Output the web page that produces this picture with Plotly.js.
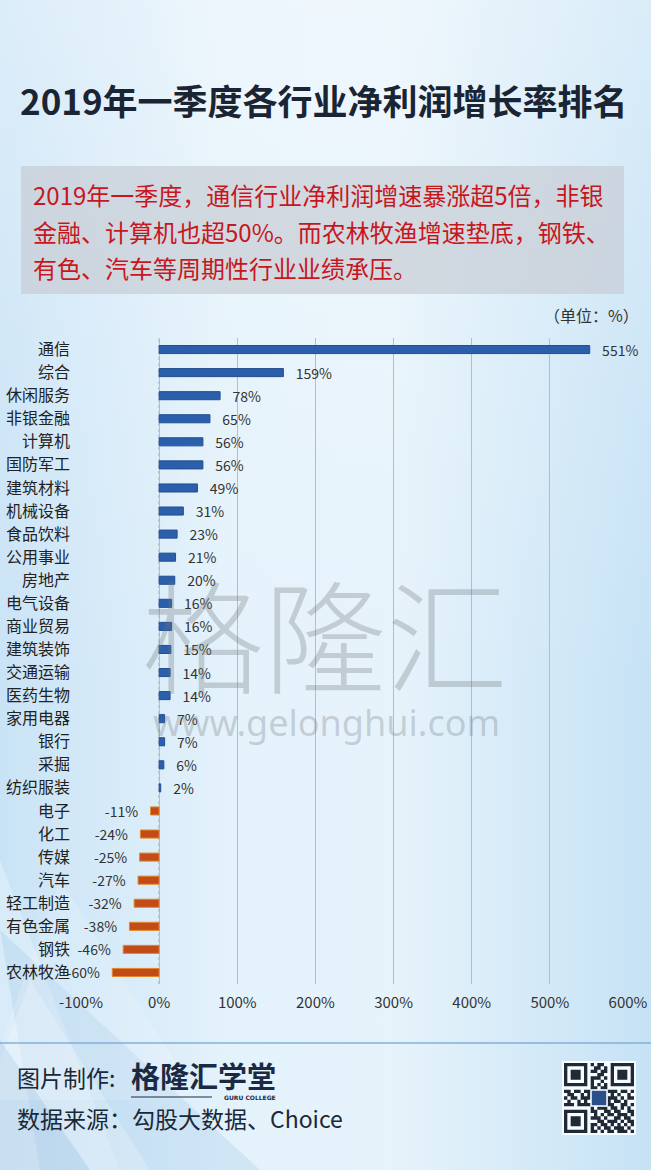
<!DOCTYPE html>
<html>
<head>
<meta charset="utf-8">
<script src="https://cdn.plot.ly/plotly-3.0.1.min.js"></script>
<style>
  html, body { margin: 0; padding: 0; }
  body {
    width: 651px; height: 1170px; overflow: hidden;
    background:
      linear-gradient(180deg, rgba(255,255,255,0.35) 0%, rgba(255,255,255,0.15) 30%, rgba(255,255,255,0) 60%),
      linear-gradient(90deg, #c9e3f6 0%, #e4f2fb 35%, #e6f3fb 60%, #c6e2f5 100%);
  }
  #graficPlotly { width: 651px; height: 1170px; }
</style>
</head>
<body>
<div id="graficPlotly"></div>
<script>
// DADES DEL GRAFIC (de dalt a baix)
var sectors = ['通信','综合','休闲服务','非银金融','计算机','国防军工','建筑材料','机械设备','食品饮料','公用事业',
               '房地产','电气设备','商业贸易','建筑装饰','交通运输','医药生物','家用电器','银行','采掘','纺织服装',
               '电子','化工','传媒','汽车','轻工制造','有色金属','钢铁','农林牧渔'];
var creixement = [551,159,78,65,56,56,49,31,23,21,
                  20,16,16,15,14,14,7,7,6,2,
                  -11,-24,-25,-27,-32,-38,-46,-60];
var ticksX = [-100,0,100,200,300,400,500,600];

var textAnalisi = ['2019年一季度，通信行业净利润增速暴涨超5倍，非银',
                   '金融、计算机也超50%。而农林牧渔增速垫底，钢铁、',
                   '有色、汽车等周期性行业业绩承压。'];

// patro decoratiu del codi QR
var qr = [
  '111111101011001111111',
  '100000100110101000001',
  '101110101101101011101',
  '101110100011001011101',
  '101110101110101011101',
  '100000101001001000001',
  '111111101010101111111',
  '000000001101100000000',
  '110110111010011101101',
  '011001010111101010010',
  '101101110000011101011',
  '010010100000010110100',
  '111011111000011001101',
  '000000001011101101010',
  '111111101100110110011',
  '100000100101011011101',
  '101110101110100110110',
  '101110100011011101011',
  '101110101101101010101',
  '100000101010110111010',
  '111111101101011011101'
];

// MARGES DE L'AREA DEL GRAFIC (en pixels)
var W = 651, H = 1170;
var mL = 81, mR = 23, mT = 338, mB = 186;
var pw = W - mL - mR, ph = H - mT - mB;
function px(x) { return (x - mL) / pw; }        // pixel x -> paper
function py(y) { return (H - mB - y) / ph; }    // pixel y -> paper

var FONT = '"Noto Sans CJK SC", "Noto Sans", sans-serif';
var NBSP = '\u00a0\u00a0\u00a0';

var colors = creixement.map(function (v) { return v >= 0 ? '#2b5fab' : '#c24b18'; });
var borders = creixement.map(function (v) { return v >= 0 ? '#234f92' : '#e0892c'; });

var barres = {
  type: 'bar', orientation: 'h',
  y: sectors, x: creixement,
  width: 0.35,
  marker: { color: colors, line: { color: borders, width: 1 } },
  text: creixement.map(function (v) { return v >= 0 ? NBSP + v + '%' : v + '%' + NBSP; }),
  textposition: 'outside',
  constraintext: 'none',
  cliponaxis: false,
  textfont: { family: FONT, size: 14, color: '#333333' },
  hoverinfo: 'skip'
};

// FORMES: caixa del text, linia del zero, linia del peu, triangles de fons, QR
var shapes = [];

// triangles decoratius a baix a l'esquerra
var tri = [
  [[0,860],[120,1170],[0,1170]],
  [[0,930],[260,1170],[40,1170]],
  [[30,980],[150,1170],[-40,1170]],
  [[0,1040],[90,1170],[0,1170]],
  [[60,880],[200,1100],[-20,1100]]
];
var triFill = ['rgba(255,255,255,0.28)','rgba(120,175,220,0.18)','rgba(255,255,255,0.22)','rgba(90,150,205,0.18)','rgba(255,255,255,0.15)'];
tri.forEach(function (t, k) {
  var d = 'M' + px(t[0][0]) + ',' + py(t[0][1]) + ' L' + px(t[1][0]) + ',' + py(t[1][1]) + ' L' + px(t[2][0]) + ',' + py(t[2][1]) + ' Z';
  shapes.push({ type: 'path', xref: 'paper', yref: 'paper', path: d, fillcolor: triFill[k], line: { width: 0 }, layer: 'below' });
});

shapes.push({ type: 'rect', xref: 'paper', yref: 'paper', x0: px(21), x1: px(624), y0: py(294), y1: py(166),
              fillcolor: 'rgba(200,205,213,0.72)', line: { width: 0 }, layer: 'below' });
shapes.push({ type: 'line', xref: 'x', yref: 'paper', x0: 0, x1: 0, y0: 0, y1: 1,
              line: { color: '#8a97a3', width: 1, dash: 'dot' }, layer: 'below' });
shapes.push({ type: 'line', xref: 'paper', yref: 'paper', x0: px(0), x1: px(651), y0: py(1043), y1: py(1043),
              line: { color: 'rgba(120,170,215,0.9)', width: 1.5 } });
shapes.push({ type: 'line', xref: 'paper', yref: 'paper', x0: px(131), x1: px(212), y0: py(1097), y1: py(1097),
              line: { color: '#1b2a44', width: 1 } });

// QR
var qx = 564, qy = 1063, qs = 70 / qr.length;
var qrPath = '';
qr.forEach(function (row, r) {
  for (var c = 0; c < row.length; c++) {
    if (row[c] === '1') {
      var x0 = qx + c * qs, y0 = qy + r * qs;
      qrPath += 'M' + px(x0) + ',' + py(y0) + ' L' + px(x0 + qs) + ',' + py(y0) + ' L' + px(x0 + qs) + ',' + py(y0 + qs) + ' L' + px(x0) + ',' + py(y0 + qs) + ' Z ';
    }
  }
});
shapes.push({ type: 'rect', xref: 'paper', yref: 'paper', x0: px(qx - 2), x1: px(qx + 72), y0: py(qy + 72), y1: py(qy - 2),
              fillcolor: 'rgba(255,255,255,0.85)', line: { width: 0 } });
shapes.push({ type: 'path', xref: 'paper', yref: 'paper', path: qrPath, fillcolor: '#1e2a36', line: { width: 0 } });
shapes.push({ type: 'rect', xref: 'paper', yref: 'paper', x0: px(qx + 27), x1: px(qx + 43), y0: py(qy + 43), y1: py(qy + 27),
              fillcolor: '#2a4f8a', line: { color: '#ffffff', width: 1.5 } });

// ANOTACIONS (textos)
var annotations = [];
annotations.push({ xref: 'paper', yref: 'paper', x: px(324), y: py(100), xanchor: 'center', yanchor: 'middle', showarrow: false,
                   text: '<b>2019年一季度各行业净利润增长率排名</b>', font: { family: FONT, size: 35, color: '#1b2433' } });

var liniesY = [194, 231, 267];
textAnalisi.forEach(function (t, k) {
  annotations.push({ xref: 'paper', yref: 'paper', x: px(31), y: py(liniesY[k]), xanchor: 'left', yanchor: 'middle', showarrow: false,
                     text: t, font: { family: FONT, size: 24, color: '#c8161d' } });
});

annotations.push({ xref: 'paper', yref: 'paper', x: px(641), y: py(315), xanchor: 'right', yanchor: 'middle', showarrow: false,
                   text: '（单位：%）', font: { family: FONT, size: 16, color: '#333333' } });

// marca d'aigua
annotations.push({ xref: 'paper', yref: 'paper', x: px(325), y: py(630), xanchor: 'center', yanchor: 'middle', showarrow: false,
                   text: '格隆汇', font: { family: FONT, size: 122, weight: 300, color: 'rgba(110,115,120,0.30)' } });
annotations.push({ xref: 'paper', yref: 'paper', x: px(326), y: py(722), xanchor: 'center', yanchor: 'middle', showarrow: false,
                   text: 'www.gelonghui.com', font: { family: '"Noto Sans", sans-serif', size: 36, color: 'rgba(110,115,120,0.30)' } });

// peu
annotations.push({ xref: 'paper', yref: 'paper', x: px(15), y: py(1077), xanchor: 'left', yanchor: 'middle', showarrow: false,
                   text: '图片制作:', font: { family: FONT, size: 23, color: '#1a2838' } });
annotations.push({ xref: 'paper', yref: 'paper', x: px(129), y: py(1075), xanchor: 'left', yanchor: 'middle', showarrow: false,
                   text: '<b>格隆汇学堂</b>', font: { family: FONT, size: 29, color: '#1b2a44' } });
annotations.push({ xref: 'paper', yref: 'paper', x: px(278), y: py(1097), xanchor: 'right', yanchor: 'middle', showarrow: false,
                   text: '<b>GURU COLLEGE</b>', font: { family: '"DejaVu Sans", sans-serif', size: 6, color: '#1b2a44' } });
annotations.push({ xref: 'paper', yref: 'paper', x: px(15), y: py(1118), xanchor: 'left', yanchor: 'middle', showarrow: false,
                   text: '数据来源：勾股大数据、Choice', font: { family: FONT, size: 23, color: '#1a2838' } });

var layout = {
  width: W, height: H,
  margin: { l: mL, r: mR, t: mT, b: mB, pad: 0 },
  paper_bgcolor: 'rgba(0,0,0,0)',
  plot_bgcolor: 'rgba(0,0,0,0)',
  showlegend: false,
  xaxis: {
    range: [-100, 600], tickvals: ticksX, ticktext: ticksX.map(function (v) { return v + '%'; }),
    showgrid: true, gridcolor: '#b3bec8', gridwidth: 1, zeroline: false,
    showline: false, ticks: '', fixedrange: true, ticklabelstandoff: 8,
    tickfont: { family: FONT, size: 15, color: '#333333' }
  },
  yaxis: {
    type: 'category', autorange: 'reversed', showgrid: false, zeroline: false, showline: false,
    ticks: '', ticklabelstandoff: 10, fixedrange: true,
    tickfont: { family: FONT, size: 16, color: '#222222' }
  },
  shapes: shapes,
  annotations: annotations
};

Plotly.newPlot('graficPlotly', [barres], layout, { displayModeBar: false, staticPlot: true });
</script>
</body>
</html>
